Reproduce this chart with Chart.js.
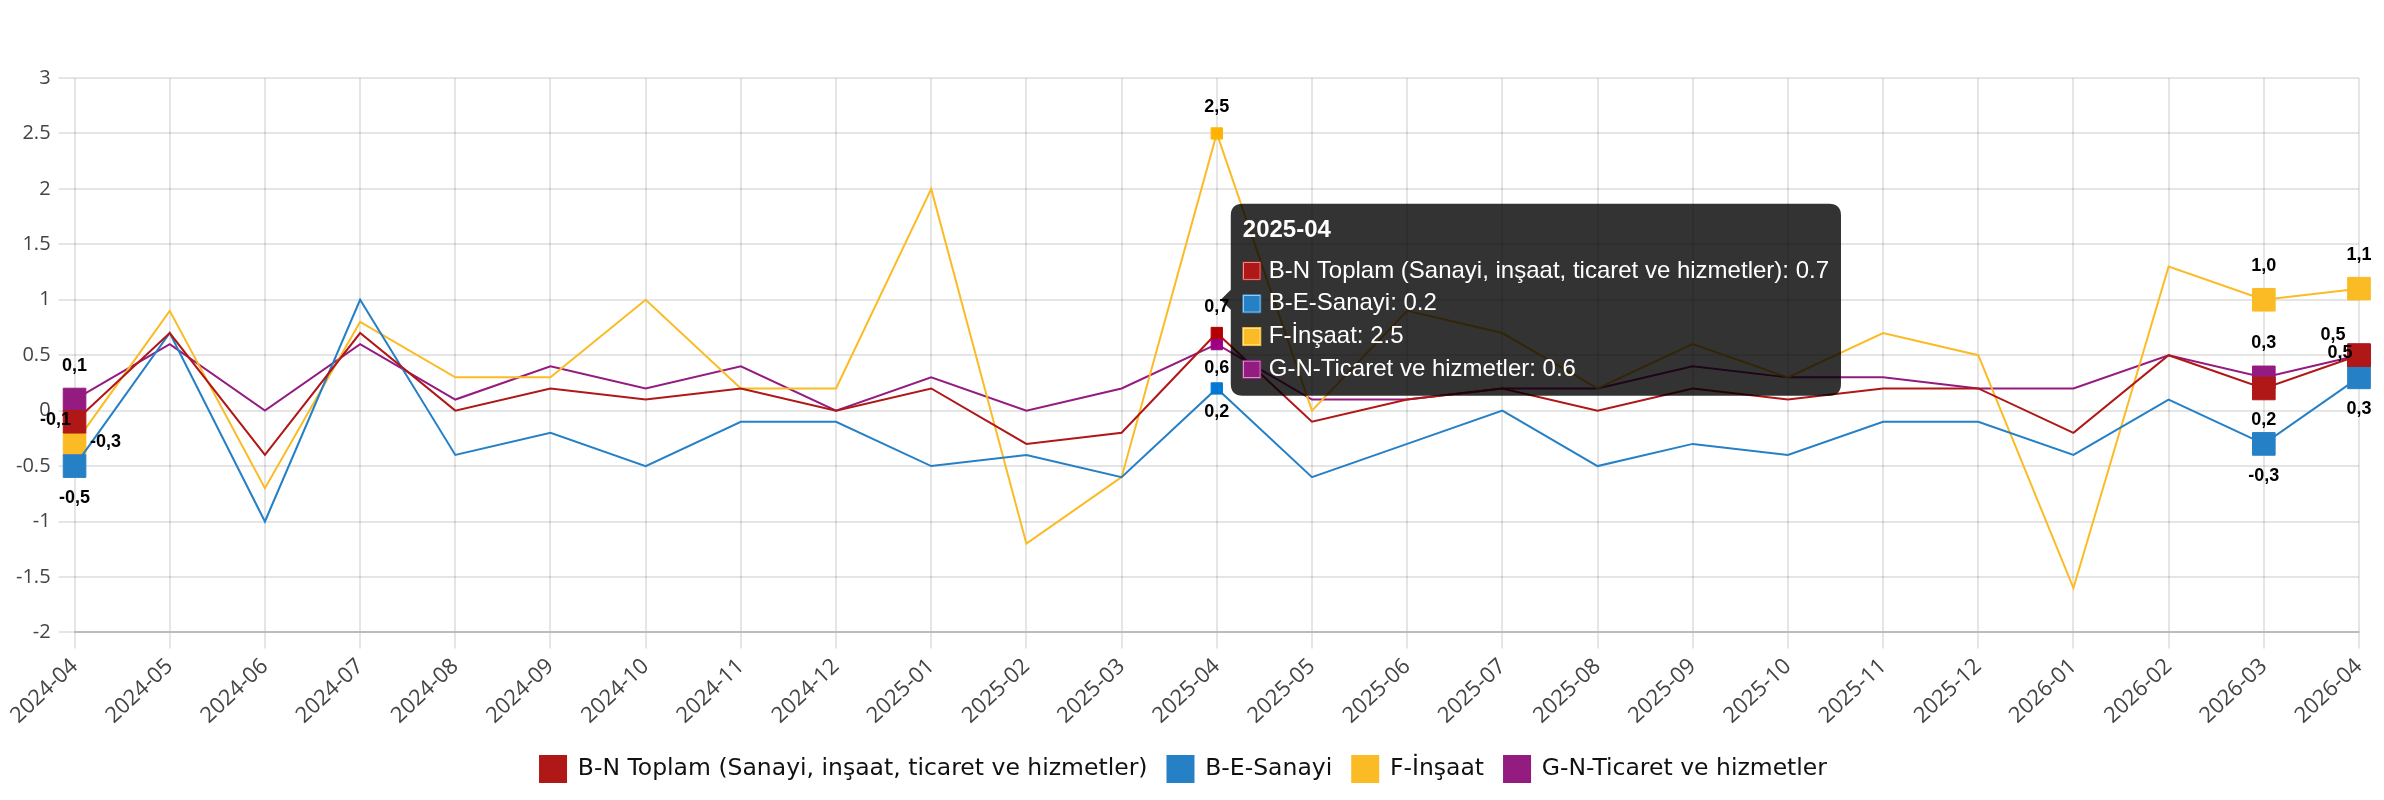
<!DOCTYPE html>
<html>
<head>
<meta charset="utf-8">
<script src="https://cdn.jsdelivr.net/npm/chart.js@4.4.1/dist/chart.umd.min.js"></script>
<style>
    html, body { margin: 0; background: #fff; }
    #wrap { width: 2384px; height: 800px; position: relative; }
</style>
</head>
<body>
<div id="wrap"><canvas id="chart"></canvas></div>
<script>
const months = ['2024-04', '2024-05', '2024-06', '2024-07', '2024-08', '2024-09', '2024-10', '2024-11', '2024-12',
    '2025-01', '2025-02', '2025-03', '2025-04', '2025-05', '2025-06', '2025-07', '2025-08', '2025-09', '2025-10',
    '2025-11', '2025-12', '2026-01', '2026-02', '2026-03', '2026-04'];

const toplam = [-0.1, 0.7, -0.4, 0.7, 0.0, 0.2, 0.1, 0.2, 0.0, 0.2, -0.3, -0.2, 0.7, -0.1, 0.1, 0.2, 0.0, 0.2, 0.1, 0.2, 0.2, -0.2, 0.5, 0.2, 0.5];
const sanayi = [-0.5, 0.7, -1.0, 1.0, -0.4, -0.2, -0.5, -0.1, -0.1, -0.5, -0.4, -0.6, 0.2, -0.6, -0.3, 0.0, -0.5, -0.3, -0.4, -0.1, -0.1, -0.4, 0.1, -0.3, 0.3];
const insaat = [-0.3, 0.9, -0.7, 0.8, 0.3, 0.3, 1.0, 0.2, 0.2, 2.0, -1.2, -0.6, 2.5, 0.0, 0.9, 0.7, 0.2, 0.6, 0.3, 0.7, 0.5, -1.6, 1.3, 1.0, 1.1];
const ticaret = [0.1, 0.6, 0.0, 0.6, 0.1, 0.4, 0.2, 0.4, 0.0, 0.3, 0.0, 0.2, 0.6, 0.1, 0.1, 0.2, 0.2, 0.4, 0.3, 0.3, 0.2, 0.2, 0.5, 0.3, 0.5];

const seriesNames = ['B-N Toplam (Sanayi, inşaat, ticaret ve hizmetler)', 'B-E-Sanayi', 'F-İnşaat', 'G-N-Ticaret ve hizmetler'];
const seriesColors = ['#b01717', '#2680c6', '#fbbb24', '#941b80'];

// points that always show a marker and value label
const markedMonths = ['2024-04', '2026-03', '2026-04'];
const hoveredMonth = '2025-04';

// label side per month, in dataset order
const labelSides = {
    '2024-04': ['left', 'bottom', 'right', 'top'],
    '2025-04': ['top', 'bottom', 'top', 'bottom'],
    '2026-03': ['bottom', 'bottom', 'top', 'top'],
    '2026-04': ['upleft', 'bottom', 'top', 'left'],
};

const marked = markedMonths.map(m => months.indexOf(m));

function sideOffset(side, r) {
    switch (side) {
        case 'top': return [0, -(r + 18)];
        case 'bottom': return [0, r + 16];
        case 'left': return [-(r + 3), -2];
        case 'right': return [r + 15, -2];
        case 'upleft': return [-(r + 10), -(r + 4)];
    }
    return [0, 0];
}

const valueLabels = {
    id: 'valueLabels',
    afterDatasetsDraw(chart) {
        const { ctx } = chart;
        const active = chart.getActiveElements().map(a => a.index);
        ctx.save();
        ctx.font = 'bold 18px "Liberation Sans", Arial, sans-serif';
        ctx.fillStyle = '#000';
        ctx.textAlign = 'center';
        ctx.textBaseline = 'middle';
        chart.data.datasets.forEach((ds, di) => {
            chart.getDatasetMeta(di).data.forEach((pt, i) => {
                if (!marked.includes(i) && !active.includes(i)) return;
                const sides = labelSides[months[i]];
                if (!sides) return;
                const [dx, dy] = sideOffset(sides[di], pt.options.radius);
                ctx.fillText(ds.data[i].toFixed(1).replace('.', ','), pt.x + dx, pt.y + dy);
            });
        });
        ctx.restore();
    },
};

const datasets = [toplam, sanayi, insaat, ticaret].map((values, i) => ({
    label: seriesNames[i],
    data: values,
    borderColor: seriesColors[i],
    backgroundColor: seriesColors[i],
    borderWidth: 2,
    tension: 0,
    pointStyle: 'rect',
    pointRadius: c => marked.includes(c.dataIndex) ? 16 : 0,
    pointBorderWidth: 1,
    pointHoverRadius: 8,
    pointHoverBorderWidth: 1,
}));

const chart = new Chart(document.getElementById('chart'), {
    type: 'line',
    data: { labels: months, datasets },
    plugins: [valueLabels],
    options: {
        responsive: true,
        maintainAspectRatio: false,
        animation: false,
        events: [],
        interaction: { mode: 'index', intersect: false },
        layout: { padding: { top: 78, right: 25, left: 8, bottom: 8 } },
        plugins: {
            legend: {
                position: 'bottom',
                labels: {
                    boxWidth: 26, boxHeight: 26, padding: 20, color: '#111',
                    font: { family: '"DejaVu Sans", sans-serif', size: 23.5 },
                },
            },
            tooltip: {
                backgroundColor: 'rgba(0,0,0,0.8)',
                padding: 12,
                caretSize: 10,
                caretPadding: 4,
                cornerRadius: 12,
                titleFont: { size: 24, weight: 'bold' },
                bodyFont: { size: 24 },
                titleMarginBottom: 12,
                bodySpacing: 4,
                boxWidth: 18,
                boxHeight: 18,
                boxPadding: 6,
            },
        },
        scales: {
            x: {
                grid: { color: 'rgba(0,0,0,0.1)', lineWidth: 2, tickLength: 16 },
                border: { color: 'rgba(0,0,0,0.18)', width: 2 },
                ticks: { color: '#444', font: { family: '"Open Sans", sans-serif', size: 22 }, minRotation: 43, maxRotation: 43, padding: 5 },
                afterFit: scale => { scale.height += 2; },
            },
            y: {
                min: -2,
                max: 3,
                grid: { color: 'rgba(0,0,0,0.1)', lineWidth: 2, tickLength: 16 },
                border: { display: false },
                ticks: {
                    color: '#444',
                    font: { family: '"Open Sans", sans-serif', size: 20 },
                    stepSize: 0.5,
                    padding: 8,
                    callback: v => String(Number(v.toFixed(1))),
                },
            },
        },
    },
});

const hi = months.indexOf(hoveredMonth);
const activeEls = datasets.map((d, i) => ({ datasetIndex: i, index: hi }));
chart.setActiveElements(activeEls);
const anchor = chart.getDatasetMeta(0).data[hi];
chart.tooltip.setActiveElements(activeEls, { x: anchor.x, y: anchor.y });
chart.update();
</script>
</body>
</html>
